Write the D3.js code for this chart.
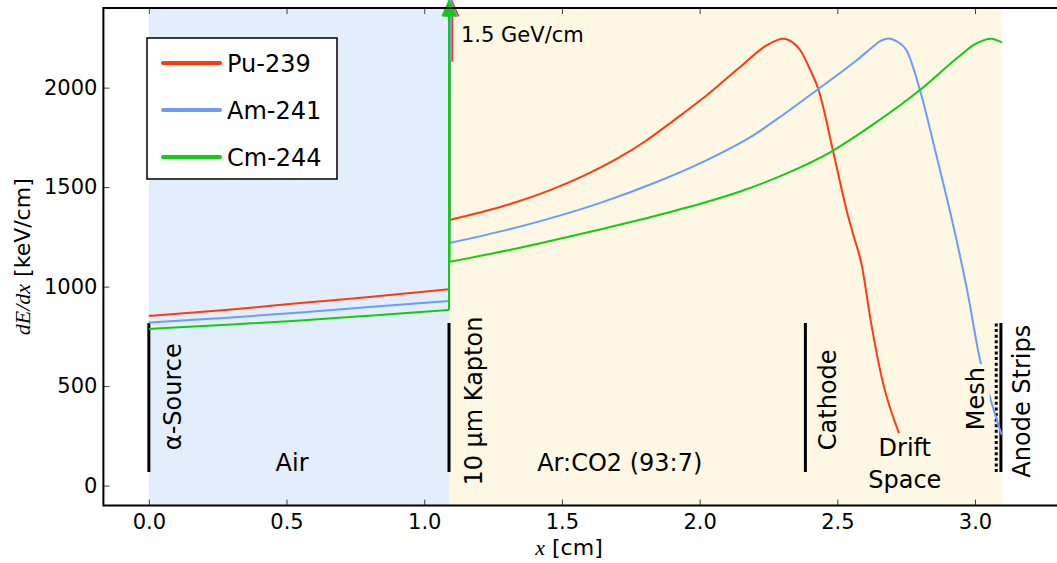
<!DOCTYPE html>
<html>
<head>
<meta charset="utf-8">
<script src="https://cdn.jsdelivr.net/npm/d3@7"></script>
<style>
  body { margin: 0; background: #ffffff; }
  svg { display: block; }
</style>
</head>
<body>
<div id="chart"></div>
<script>
const CHART_ELEMENT_ID = "chart";

const WIDTH = 1057;
const HEIGHT = 563;

const SANS = "'DejaVu Sans', sans-serif";
const SERIF = "'Liberation Serif', 'DejaVu Serif', serif";

const AIR_COLOR = '#e2eefc';
const GAS_COLOR = '#fdf7e3';

// series
const SERIES_NAMES = ["Pu-239", "Am-241", "Cm-244"];
const SERIES_COLORS = ["#ff3a0f", "#6b9bff", "#11cc11"];

// [x in cm, dE/dx in keV/cm]
const puAir = [[0, 853], [0.3, 885], [0.55, 917], [0.8, 948], [1.09, 987]];
const amAir = [[0, 819], [0.3, 845], [0.55, 870], [0.8, 897], [1.09, 928]];
const cmAir = [[0, 787], [0.3, 809], [0.55, 830], [0.8, 854], [1.09, 883]];

const puGas = [[1.092, 1335], [1.3, 1410], [1.457, 1485], [1.58, 1558], [1.7, 1643], [1.8, 1728],
  [1.904, 1833], [2.027, 1963], [2.147, 2103], [2.245, 2214], [2.304, 2245], [2.335, 2230],
  [2.365, 2189], [2.402, 2088], [2.431, 1993], [2.486, 1671], [2.539, 1355], [2.557, 1265],
  [2.59, 1098], [2.619, 847], [2.666, 515], [2.724, 264]];
const amGas = [[1.092, 1219], [1.3, 1285], [1.457, 1343], [1.65, 1426], [1.821, 1513], [2.028, 1637],
  [2.184, 1751], [2.3, 1860], [2.43, 1992], [2.568, 2135], [2.625, 2200], [2.655, 2233],
  [2.685, 2247], [2.716, 2232], [2.752, 2185], [2.8, 1988], [2.855, 1686], [2.927, 1270],
  [2.971, 985], [3.018, 633], [3.054, 445], [3.097, 254]];
const cmGas = [[1.092, 1125], [1.3, 1181], [1.457, 1229], [1.65, 1291], [1.83, 1352], [2.0, 1415],
  [2.147, 1478], [2.318, 1570], [2.474, 1675], [2.63, 1815], [2.8, 1988], [2.945, 2160],
  [3.0, 2218], [3.058, 2246], [3.098, 2227]];

const AIR_DATA = [puAir, amAir, cmAir];
const GAS_DATA = [puGas, amGas, cmGas];

// kapton window spike (1.5 GeV/cm)
const KAPTON_X = 1.09;
const SPIKE_VALUE = 1.5e6;
const ARROW_X = [1.1, 1.095, 1.09];
const ARROW_TAIL = [2130, 2130, 883];

// detector geometry
const REGION_EDGES = [0, 1.09, 3.098];
const MARKER_X = [0, 1.09, 2.384, 3.094];
const MESH_X = 3.077;
const MARKER_RANGE = [68, 817];

const X_TICKS = [0, 0.5, 1.0, 1.5, 2.0, 2.5, 3.0];
const Y_TICKS = [0, 500, 1000, 1500, 2000];

// rotated labels: [text, x, bottom value]
const VERTICAL_LABELS = [
  ["α-Source", 0.087, 178],
  ["10 µm Kapton", 1.177, 0],
  ["Cathode", 2.465, 178],
  ["Anode Strips", 3.167, 40]
];
const MESH_LABEL = ["Mesh", 3.0, 278];
const FLAT_LABELS = [
  ["Air", 0.52, 75],
  ["Ar:CO2 (93:7)", 1.71, 75],
  ["Drift", 2.745, 150],
  ["Space", 2.745, -10]
];

const x = d3.scaleLinear().domain([-0.165, 3.31]).range([103.4, 1060.4]);
const y = d3.scaleLinear().domain([-100, 2400]).range([505.5, 8]);

const svg = d3.select(`#${CHART_ELEMENT_ID}`)
  .append("svg")
  .attr("width", WIDTH)
  .attr("height", HEIGHT)
  .style("font-family", SANS);

svg.append("clipPath").attr("id", "plot-clip")
  .append("rect")
  .attr("x", x.range()[0]).attr("y", y.range()[1])
  .attr("width", x.range()[1] - x.range()[0])
  .attr("height", y.range()[0] - y.range()[1]);

const plot = svg.append("g").attr("clip-path", "url(#plot-clip)");

// background regions
plot.selectAll("rect.region")
  .data([[REGION_EDGES[0], REGION_EDGES[1], AIR_COLOR], [REGION_EDGES[1], REGION_EDGES[2], GAS_COLOR]])
  .join("rect")
  .attr("class", "region")
  .attr("x", d => x(d[0]))
  .attr("width", d => x(d[1]) - x(d[0]))
  .attr("y", y.range()[1])
  .attr("height", y.range()[0] - y.range()[1])
  .attr("fill", d => d[2]);

// marker lines
plot.selectAll("line.marker")
  .data(MARKER_X)
  .join("line")
  .attr("x1", d => x(d)).attr("x2", d => x(d))
  .attr("y1", y(MARKER_RANGE[0])).attr("y2", y(MARKER_RANGE[1]))
  .attr("stroke", "#000").attr("stroke-width", 3);

plot.append("line")
  .attr("x1", x(MESH_X)).attr("x2", x(MESH_X))
  .attr("y1", y(MARKER_RANGE[0])).attr("y2", y(MARKER_RANGE[1]))
  .attr("stroke", "#000").attr("stroke-width", 3)
  .attr("stroke-dasharray", "3,2.6");

// curves
const smooth = d3.line().x(d => x(d[0])).y(d => y(d[1])).curve(d3.curveMonotoneX);
const straight = d3.line().x(d => x(d[0])).y(d => y(d[1]));

SERIES_NAMES.forEach((name, i) => {
  const air = AIR_DATA[i], gas = GAS_DATA[i];
  const spike = [air[air.length - 1], [KAPTON_X, SPIKE_VALUE], [gas[0][0], SPIKE_VALUE], gas[0]];
  [smooth(air), straight(spike), smooth(gas)].forEach(d => {
    plot.append("path")
      .attr("d", d)
      .attr("fill", "none")
      .attr("stroke", SERIES_COLORS[i])
      .attr("stroke-width", 2)
      .attr("stroke-linejoin", "round");
  });
});

// arrows to 1.5 GeV/cm
SERIES_NAMES.forEach((name, i) => {
  const ax = x(ARROW_X[i]);
  const headBase = 16;
  svg.append("line")
    .attr("x1", ax).attr("x2", ax)
    .attr("y1", y(ARROW_TAIL[i])).attr("y2", headBase)
    .attr("stroke", SERIES_COLORS[i]).attr("stroke-width", i === 2 ? 2 : 3);
  svg.append("path")
    .attr("d", `M${ax - 7},${headBase} L${ax + 7},${headBase} L${ax},0 Z`)
    .attr("fill", SERIES_COLORS[i])
    .attr("stroke", SERIES_COLORS[i]).attr("stroke-width", 1);
});

svg.append("text")
  .attr("x", 461).attr("y", 42)
  .style("font-size", "21px")
  .text("1.5 GeV/cm");

// rotated labels
VERTICAL_LABELS.forEach(([t, lx, ly]) => {
  svg.append("text")
    .attr("transform", `translate(${x(lx)},${y(ly)}) rotate(-90)`)
    .attr("dy", "0.36em")
    .style("font-size", "24px")
    .text(t);
});

const meshG = svg.append("g")
  .attr("transform", `translate(${x(MESH_LABEL[1])},${y(MESH_LABEL[2])}) rotate(-90)`);
const meshText = meshG.append("text")
  .attr("dy", "0.36em")
  .style("font-size", "24px")
  .text(MESH_LABEL[0]);
const mb = meshText.node().getBBox();
meshG.insert("rect", "text")
  .attr("x", mb.x - 3).attr("y", mb.y - 1)
  .attr("width", mb.width + 6).attr("height", mb.height + 1)
  .attr("fill", GAS_COLOR);

svg.selectAll("text.flat")
  .data(FLAT_LABELS)
  .join("text")
  .attr("class", "flat")
  .attr("x", d => x(d[1])).attr("y", d => y(d[2]))
  .attr("text-anchor", "middle")
  .style("font-size", "24px")
  .text(d => d[0]);

// legend
const legend = svg.append("g").attr("transform", "translate(147,38)");
legend.append("rect")
  .attr("width", 190).attr("height", 141)
  .attr("fill", "#fff").attr("stroke", "#000").attr("stroke-width", 1.5);
SERIES_NAMES.forEach((name, i) => {
  const ly = 25 + i * 47;
  legend.append("line")
    .attr("x1", 16).attr("x2", 73).attr("y1", ly).attr("y2", ly)
    .attr("stroke", SERIES_COLORS[i]).attr("stroke-width", 4).attr("stroke-linecap", "round");
  legend.append("text")
    .attr("x", 80).attr("y", ly).attr("dy", "0.36em")
    .style("font-size", "24px")
    .text(name);
});

// axes with inward ticks (the right spine sits just past the window edge)
const xAxisBottom = svg.append("g")
  .attr("transform", `translate(0,${y.range()[0]})`)
  .call(d3.axisBottom(x).tickValues(X_TICKS).tickFormat(d3.format(".1f")).tickSize(-6).tickPadding(9));
const xAxisTop = svg.append("g")
  .attr("transform", `translate(0,${y.range()[1]})`)
  .call(d3.axisTop(x).tickValues(X_TICKS).tickFormat("").tickSize(-6));
const yAxisLeft = svg.append("g")
  .attr("transform", `translate(${x.range()[0]},0)`)
  .call(d3.axisLeft(y).tickValues(Y_TICKS).tickFormat(d3.format("d")).tickSize(-6).tickPadding(6));

[xAxisBottom, xAxisTop, yAxisLeft].forEach(g => {
  g.select(".domain").remove();
  g.selectAll(".tick line").attr("stroke", "#444").attr("stroke-width", 1);
  g.selectAll(".tick text")
    .style("font-family", SANS).style("font-size", "21px").attr("fill", "#000");
});

// spines
svg.append("rect")
  .attr("x", x.range()[0]).attr("y", y.range()[1])
  .attr("width", x.range()[1] - x.range()[0])
  .attr("height", y.range()[0] - y.range()[1])
  .attr("fill", "none").attr("stroke", "#000").attr("stroke-width", 2);

// axis titles
const xLabel = svg.append("text")
  .attr("x", 569).attr("y", 555)
  .attr("text-anchor", "middle")
  .style("font-size", "22px");
xLabel.append("tspan").style("font-family", SERIF).style("font-style", "italic").text("x");
xLabel.append("tspan").text(" [cm]");

const yLabel = svg.append("text")
  .attr("transform", `translate(22,${(y.range()[0] + y.range()[1]) / 2}) rotate(-90)`)
  .attr("text-anchor", "middle")
  .attr("dy", "0.36em")
  .style("font-size", "22px");
yLabel.append("tspan").style("font-family", SERIF).style("font-style", "italic").text("dE/dx");
yLabel.append("tspan").text(" [keV/cm]");
</script>
</body>
</html>
